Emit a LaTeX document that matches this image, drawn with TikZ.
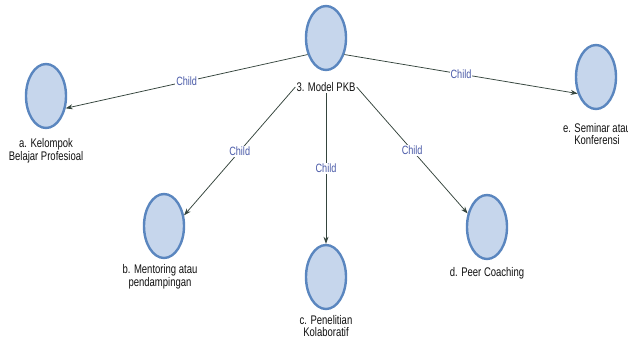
\documentclass[tikz,border=0pt]{standalone}
\usepackage{fontspec}
\setmainfont{Liberation Sans}[FakeStretch=0.76]
\usetikzlibrary{shapes.geometric,arrows.meta}
\definecolor{circfill}{HTML}{C6D6EC}
\definecolor{circline}{HTML}{5A86BF}
\definecolor{edgecol}{HTML}{34443C}
\definecolor{childcol}{HTML}{4A5AA8}
\definecolor{txtcol}{HTML}{111111}
\tikzset{
  topic/.style={ellipse, draw=circline, fill=circfill, line width=2.4pt, minimum width=40pt, minimum height=64pt, inner sep=0pt},
  caption/.style={font=\fontsize{12.5}{12.5}\selectfont, text=txtcol, align=center, inner sep=1pt},
  link/.style={draw=edgecol, line width=0.75pt, -{Stealth[length=7pt,width=5pt]}},
  childlab/.style={font=\fontsize{12}{12}\selectfont, text=childcol, fill=white, inner sep=1pt}
}
\begin{document}
\begin{tikzpicture}[x=1pt,y=-1pt]
\useasboundingbox (0,0) rectangle (628,354);
\fill[white] (0,0) rectangle (628,354);
% nodes
\node[topic] (r) at (326,38) {};
\node[caption] (rl) at (326,87) {3. Model PKB};
\node[topic] (a) at (46,96) {};
\node[caption] (al) at (46,151) {a. Kelompok\\Belajar Profesioal};
\node[topic] (b) at (164,226) {};
\node[caption] (bl) at (160,277) {b. Mentoring atau\\pendampingan};
\node[topic] (c) at (326,277) {};
\node[caption] (cl) at (326,326) {c. Penelitian\\Kolaboratif};
\node[topic] (d) at (487,227) {};
\node[caption] (dl) at (487,273) {d. Peer Coaching};
\node[topic] (e) at (596,77) {};
\node[caption] (el) at (597,134) {e. Seminar atau\\Konferensi};
% edges
\draw[link] (r.222) -- node[childlab] {Child} (a.-32);
\draw[link] (r.-42) -- node[childlab] {Child} (e.222);
\draw[link] (rl.west) -- node[childlab] {Child} (b.28);
\draw[link] (rl.south) -- node[childlab] {Child} (c.north);
\draw[link] (rl.east) -- node[childlab] {Child} (d.145);
\end{tikzpicture}
\end{document}
